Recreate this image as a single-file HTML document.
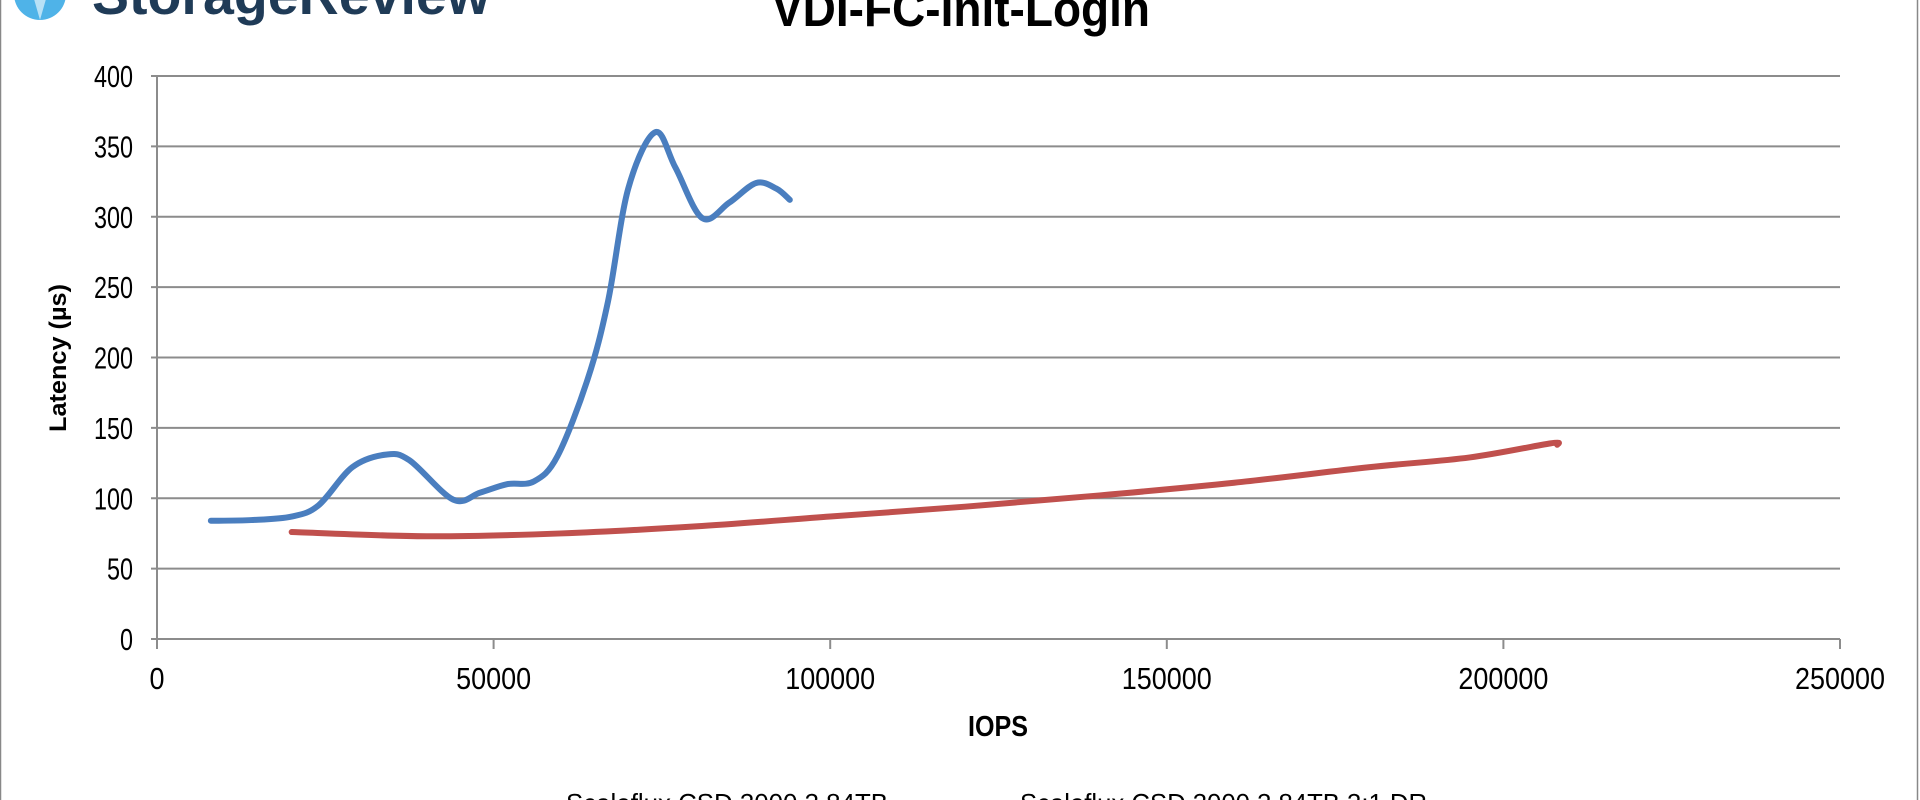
<!DOCTYPE html>
<html><head><meta charset="utf-8"><style>
html,body{margin:0;padding:0;background:#fff;}
body{width:1920px;height:800px;overflow:hidden;position:relative;font-family:"Liberation Sans",sans-serif;}
</style></head><body>
<svg id="s" width="1920" height="800" xmlns="http://www.w3.org/2000/svg" style="position:absolute;left:0;top:0">
<rect x="0.5" y="-5" width="1917" height="820" fill="none" stroke="#888" stroke-width="1.5"/>
<circle cx="40" cy="-6" r="26" fill="#4fb3e8"/>
<path d="M32 -8 L40 20 L48 -8 Z" fill="#fff" opacity="0.6"/>
<text x="92" y="14" font-size="56" font-weight="bold" fill="#1f3b57" textLength="398" lengthAdjust="spacingAndGlyphs">StorageReview</text>
<text x="961" y="26" font-size="50" font-weight="bold" text-anchor="middle" textLength="378" lengthAdjust="spacingAndGlyphs">VDI-FC-Init-Login</text>
<g id="grid"></g>
<g id="series"></g>
<text transform="translate(66,358) rotate(-90)" font-size="24" font-weight="bold" text-anchor="middle" textLength="148" lengthAdjust="spacingAndGlyphs">Latency (µs)</text>
<text x="998" y="736" font-size="29" font-weight="bold" text-anchor="middle" textLength="60" lengthAdjust="spacingAndGlyphs">IOPS</text>
<text x="566" y="812" font-size="26" textLength="322" lengthAdjust="spacingAndGlyphs">Scaleflux CSD 3000 3.84TB</text>
<text x="1020" y="812" font-size="26" textLength="407" lengthAdjust="spacingAndGlyphs">Scaleflux CSD 3000 3.84TB 3:1 DR</text>
</svg>
<script>
const L=157,R=1840,T=76,B=639;
const X=v=>L+v/250000*(R-L), Y=v=>B-v/400*(B-T);
let g='';
for(let v=0;v<=400;v+=50){const y=Y(v).toFixed(1);const s=String(v);
g+=`<line x1="${L-6}" y1="${y}" x2="${R}" y2="${y}" stroke="#8c8c8c" stroke-width="2"/>`;
g+=`<text x="${L-24}" y="${(+y+11)}" font-size="31" text-anchor="end" textLength="${s.length*13}" lengthAdjust="spacingAndGlyphs">${s}</text>`;}
g+=`<line x1="${L}" y1="${T}" x2="${L}" y2="${B+10}" stroke="#8c8c8c" stroke-width="2"/>`;
for(let v=0;v<=250000;v+=50000){const x=X(v).toFixed(1);const s=String(v);
g+=`<line x1="${x}" y1="${B}" x2="${x}" y2="${B+10}" stroke="#8c8c8c" stroke-width="2"/>`;
g+=`<text x="${x}" y="689" font-size="31" text-anchor="middle" textLength="${s.length*15}" lengthAdjust="spacingAndGlyphs">${s}</text>`;}
document.getElementById('grid').innerHTML=g;
function path(pts){const p=pts.map(a=>[X(a[0]),Y(a[1])]);let d=`M${p[0][0]},${p[0][1]}`;
for(let i=0;i<p.length-1;i++){const p0=p[i-1]||p[i],p1=p[i],p2=p[i+1],p3=p[i+2]||p2;
const c1=[p1[0]+(p2[0]-p0[0])/6,p1[1]+(p2[1]-p0[1])/6],c2=[p2[0]-(p3[0]-p1[0])/6,p2[1]-(p3[1]-p1[1])/6];
d+=` C${c1[0]},${c1[1]} ${c2[0]},${c2[1]} ${p2[0]},${p2[1]}`;}return d;}
const blue=[[8000,84],[14000,84.5],[20000,87],[24000,95],[29000,122],[34000,131],[37500,127],[44000,99],[48000,104],[52000,110],[56000,112],[59500,130],[64000,185],[67000,240],[70000,320],[74000,360],[77000,335],[81000,299],[85000,310],[89000,324],[92000,320],[94000,312]];
const red=[[20000,76],[40000,73],[60000,75],[80000,80],[100000,87],[120000,94],[140000,102],[160000,111],[180000,122],[195000,129],[207000,139],[208000,138]];
document.getElementById('series').innerHTML=
`<path d="${path(red)}" fill="none" stroke="#c0504d" stroke-width="6" stroke-linecap="round"/>`+
`<path d="${path(blue)}" fill="none" stroke="#4a7ebf" stroke-width="6" stroke-linecap="round"/>`;
</script>
</body></html>
